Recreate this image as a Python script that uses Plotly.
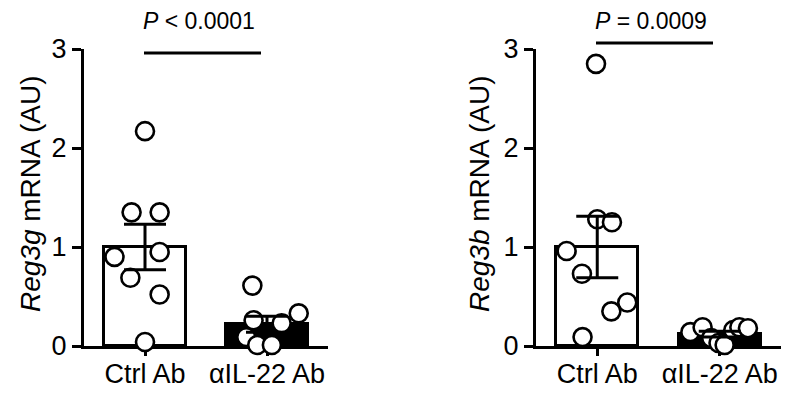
import plotly.graph_objects as go

groups = ["Ctrl Ab", "αIL-22 Ab"]
tick_vals = [0, 1, 2, 3]

# Reg3g panel (left)
reg3g_ctrl = [2.17, 1.35, 1.35, 0.90, 0.95, 0.69, 0.52, 0.04]
reg3g_ctrl_jit = [0.0, -0.11, 0.12, -0.25, 0.12, -0.12, 0.12, 0.0]
reg3g_il22 = [0.61, 0.26, 0.23, 0.33, 0.09, 0.01, 0.01]
reg3g_il22_jit = [-0.12, -0.11, 0.12, 0.26, -0.17, -0.08, 0.04]
reg3g_mean = [1.0, 0.22]
reg3g_sem = [0.23, 0.08]
reg3g_title = "<i>Reg3g</i> mRNA (AU)"
reg3g_p = "<i>P</i> < 0.0001"

# Reg3b panel (right)
reg3b_ctrl = [2.85, 1.28, 1.25, 0.96, 0.73, 0.44, 0.35, 0.09]
reg3b_ctrl_jit = [-0.01, 0.0, 0.12, -0.25, -0.125, 0.245, 0.115, -0.12]
reg3b_il22 = [0.14, 0.19, 0.08, 0.03, 0.01, 0.16, 0.19, 0.18]
reg3b_il22_jit = [-0.24, -0.14, -0.07, -0.01, 0.04, 0.11, 0.16, 0.23]
reg3b_mean = [1.0, 0.12]
reg3b_sem = [0.31, 0.03]
reg3b_title = "<i>Reg3b</i> mRNA (AU)"
reg3b_p = "<i>P</i> = 0.0009"

FONT = "Arial, Liberation Sans, sans-serif"
W, H = 788, 397

fig = go.Figure()


def add_panel(fig, xa, ya, ctrl, ctrl_jit, il22, il22_jit, mean, sem):
    fig.add_trace(go.Bar(
        x=[0, 1], y=mean, width=0.67, xaxis=xa, yaxis=ya,
        marker=dict(color=["white", "black"], line=dict(color="black", width=3)),
        showlegend=False, hoverinfo="skip"))
    xs = [0 + j for j in ctrl_jit] + [1 + j for j in il22_jit]
    ys = list(ctrl) + list(il22)
    fig.add_trace(go.Scatter(
        x=xs, y=ys, mode="markers", xaxis=xa, yaxis=ya, cliponaxis=False,
        marker=dict(symbol="circle", size=18, color="white",
                    line=dict(color="black", width=2.6)),
        showlegend=False))
    fig.add_trace(go.Scatter(
        x=[0, 1], y=mean, mode="markers", xaxis=xa, yaxis=ya, cliponaxis=False,
        marker=dict(size=1, opacity=0),
        error_y=dict(type="data", array=sem, visible=True, color="black",
                     thickness=3, width=21),
        showlegend=False))


add_panel(fig, "x", "y", reg3g_ctrl, reg3g_ctrl_jit, reg3g_il22, reg3g_il22_jit,
          reg3g_mean, reg3g_sem)
add_panel(fig, "x2", "y2", reg3b_ctrl, reg3b_ctrl_jit, reg3b_il22, reg3b_il22_jit,
          reg3b_mean, reg3b_sem)

ydom = [(H - 346) / H, (H - 49) / H]
xcommon = dict(range=[-0.5, 1.5], tickvals=[0, 1], ticktext=groups,
               showline=True, linecolor="black", linewidth=3,
               ticks="outside", ticklen=7, tickwidth=3, tickcolor="black",
               ticklabelstandoff=-5,
               showgrid=False, zeroline=False, layer="below traces", automargin=False,
               tickfont=dict(family=FONT, size=27, color="black"), fixedrange=True)
ycommon = dict(range=[0, 3], tickvals=tick_vals, showline=True, linecolor="black",
               linewidth=3, ticks="outside", ticklen=9, tickwidth=3,
               tickcolor="black", showgrid=False, zeroline=False, automargin=False,
               layer="below traces", domain=ydom,
               tickfont=dict(family=FONT, size=27, color="black"), fixedrange=True)

fig.update_layout(
    width=W, height=H, margin=dict(l=0, r=0, t=0, b=0, pad=0, autoexpand=False),
    paper_bgcolor="white", plot_bgcolor="white",
    xaxis=dict(domain=[84 / W, 328 / W], anchor="y", **xcommon),
    yaxis=dict(anchor="x", **ycommon),
    xaxis2=dict(domain=[536 / W, 781 / W], anchor="y2", **xcommon),
    yaxis2=dict(anchor="x2", **ycommon),
    bargap=0,
)

# significance lines (paper coordinates so they are not clipped above the axis)
fig.add_shape(type="line", xref="paper", yref="paper",
              x0=144 / W, x1=261 / W, y0=(H - 53) / H, y1=(H - 53) / H,
              line=dict(color="black", width=3))
fig.add_shape(type="line", xref="paper", yref="paper",
              x0=596 / W, x1=713 / W, y0=(H - 43) / H, y1=(H - 43) / H,
              line=dict(color="black", width=3))

ann_font = dict(family=FONT, size=23, color="black")
fig.add_annotation(x=199 / W, y=(H - 21) / H, xref="paper", yref="paper", text=reg3g_p,
                   showarrow=False, font=ann_font, yanchor="middle", xanchor="center")
fig.add_annotation(x=651 / W, y=(H - 21) / H, xref="paper", yref="paper", text=reg3b_p,
                   showarrow=False, font=ann_font, yanchor="middle", xanchor="center")

title_font = dict(family=FONT, size=28, color="black")
fig.add_annotation(x=30 / W, y=(H - 194) / H, xref="paper", yref="paper",
                   text=reg3g_title, textangle=-90, showarrow=False, font=title_font,
                   xanchor="center", yanchor="middle")
fig.add_annotation(x=479 / W, y=(H - 194) / H, xref="paper", yref="paper",
                   text=reg3b_title, textangle=-90, showarrow=False, font=title_font,
                   xanchor="center", yanchor="middle")

fig.write_html("out.html", config={"displayModeBar": False},
               post_script="document.body.style.margin='0px';"
                           "document.body.style.overflow='hidden';")
